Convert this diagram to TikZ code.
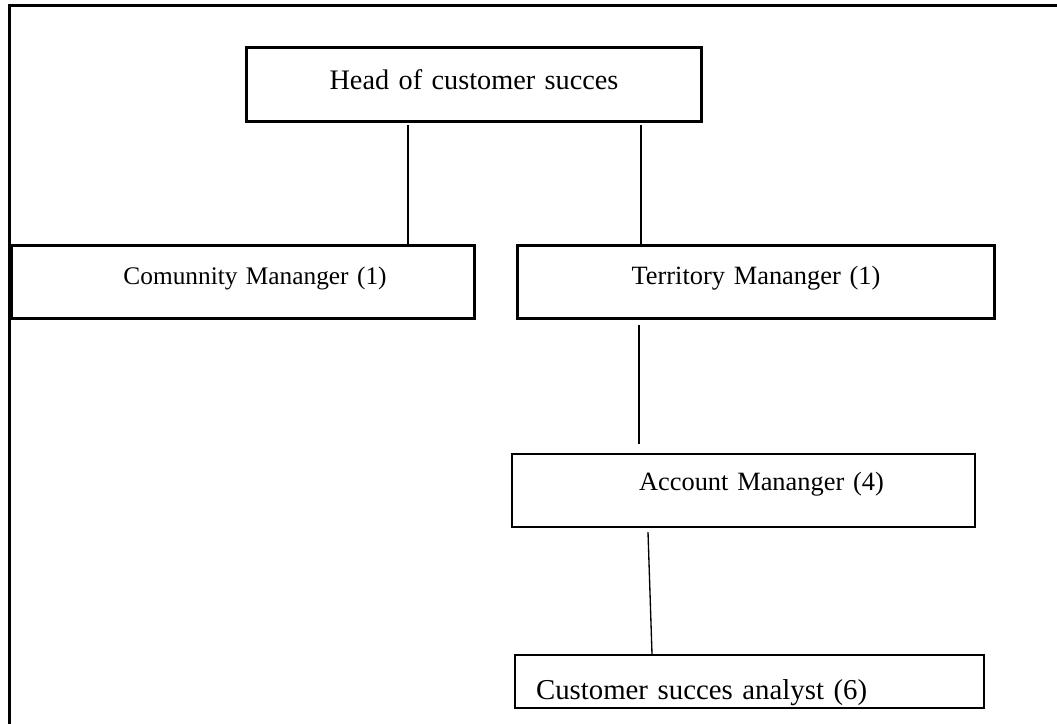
\documentclass[tikz,border=0pt]{standalone}
\usepackage{fontspec}
\setmainfont{Liberation Serif}
\begin{document}
% one unit = one pixel of a 1057 x 724 canvas, y pointing down
\begin{tikzpicture}[x=0.75pt,y=-0.75pt,
  orgbox/.style={draw, line width=2.25pt, inner sep=0pt, anchor=north west,
    font=\fontsize{19.8}{24}\selectfont},
  thinbox/.style={orgbox, line width=1.6pt},
  bigtext/.style={font=\fontsize{21.6}{26}\selectfont},
  conn/.style={line width=1pt}]
\useasboundingbox (0,0) rectangle (1057,724);

% open frame: top and left edges only
\draw[line width=2.25pt] (9.3,724) -- (9.3,5.3) -- (1057,5.3);

% boxes (width / height / baseline set in pt from the pixel grid)
\node[orgbox, font=\fontsize{21.2}{26}\selectfont, text width=341.25pt, align=center,
      text height=31.5pt, text depth=24pt] (head) at (245,46)
      {Head of customer succes};
\node[orgbox, font=\fontsize{19}{23}\selectfont, text width=347.25pt, align=left,
      text height=29.25pt, text depth=25.5pt] (comm) at (10,244)
      {\hspace*{84pt}Comunnity Mananger (1)};
\node[orgbox, text width=357.75pt, align=center,
      text height=29.25pt, text depth=25.5pt] (terr) at (516,244)
      {Territory Mananger (1)};
\node[thinbox, text width=347.25pt, align=left,
      text height=27pt, text depth=27.75pt] (acct) at (511,453)
      {\hspace*{95.25pt}Account Mananger (4)};
\node[thinbox, bigtext, text width=351.75pt, align=left,
      text height=33pt, text depth=6.75pt] (anal) at (514,654)
      {\hspace*{15.75pt}Customer succes analyst (6)};

% connector columns
\coordinate (xa) at (408,0);
\coordinate (xb) at (641,0);
\coordinate (xc) at (639,0);
\coordinate (xd) at (648,0);
\coordinate (xe) at (652,0);

\draw[conn] ([yshift=-1.5pt]head.south -| xa) -- (comm.north -| xa);
\draw[conn] ([yshift=-1.5pt]head.south -| xb) -- (terr.north -| xb);
\draw[conn] ([yshift=-3.75pt]terr.south -| xc) -- ([yshift=6.75pt]acct.north -| xc);
\draw[conn] ([yshift=-3pt]acct.south -| xd) -- (anal.north -| xe);
\end{tikzpicture}
\end{document}
